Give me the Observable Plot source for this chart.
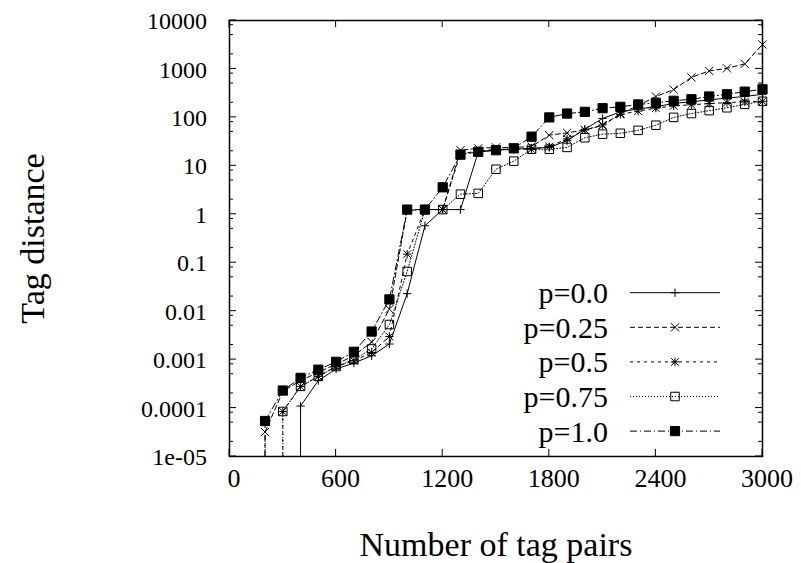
<!DOCTYPE html>
<html>
<head>
<meta charset="utf-8">
<script src="https://cdn.jsdelivr.net/npm/d3@7"></script>
<script src="https://cdn.jsdelivr.net/npm/@observablehq/plot@0.6"></script>
<style>
  html, body { margin: 0; padding: 0; background: #fff; }
  #chart { width: 801px; height: 563px; }
</style>
</head>
<body>
<div id="chart"></div>
<script>
// ---- data ----
const pairs = [200, 300, 400, 500, 600, 700, 800, 900, 1000, 1100, 1200, 1300, 1400, 1500,
  1600, 1700, 1800, 1900, 2000, 2100, 2200, 2300, 2400, 2500, 2600, 2700, 2800, 2900, 3000];
const seriesNames = ["p=0.0", "p=0.25", "p=0.5", "p=0.75", "p=1.0"];
const p00 = [null, null, 1.1e-4, 3.7e-4, 6.4e-4, 8.5e-4, 1.2e-3, 2.1e-3, 0.023, 0.58, 1.25, 1.25,
  19.5, 21, 22, 23, 24, 33, 57, 95, 130, 150, 165, 195, 210, 230, 250, 270, 300];
const p025 = [3.2e-5, 2.2e-4, 3.7e-4, 5.5e-4, 8e-4, 1.2e-3, 2.3e-3, 0.011, 1.2, 1.25, 1.25, 21,
  23, 24, 24, 25, 43, 48, 55, 68, 120, 175, 270, 375, 670, 910, 1030, 1270, 3200];
const p05 = [null, 8.5e-5, 2.8e-4, 4.5e-4, 7.2e-4, 9.5e-4, 1.4e-3, 3e-3, 0.15, 1.25, 1.25, 18,
  20, 22, 22, 22, 25, 36, 55, 70, 115, 135, 155, 173, 182, 193, 202, 210, 215];
const p075 = [null, 8.5e-5, 2.8e-4, 4.5e-4, 7.2e-4, 1e-3, 1.66e-3, 5.3e-3, 0.066, 1.25, 1.25, 2.6,
  2.7, 8.5, 12.5, 22, 22, 24, 38, 45, 47, 54, 69, 100, 120, 138, 158, 186, 215];
const p10 = [5.4e-5, 2.3e-4, 4.2e-4, 6.2e-4, 9e-4, 1.45e-3, 3.8e-3, 0.0175, 1.25, 1.25, 3.6, 17,
  19.5, 21, 23, 40, 100, 120, 130, 155, 165, 185, 200, 220, 237, 270, 300, 340, 380];
const seriesValues = [p00, p025, p05, p075, p10];

const xTicks = [0, 600, 1200, 1800, 2400, 3000];
const yTicks = [1e-5, 1e-4, 1e-3, 1e-2, 1e-1, 1, 10, 100, 1000, 10000];
const yTickLabels = ["1e-05", "0.0001", "0.001", "0.01", "0.1", "1", "10", "100", "1000", "10000"];
const yMinorFactors = [2, 5, 8];

// ---- styles ----
const dashes = [null, "5,3", "3,4", "1,2", "7,3,1,3"];
const markers = [
  [["plus", 2.8, "none"]],
  [["times", 3.8, "none"]],
  [["plus", 2.8, "none"], ["times", 3.6, "none"]],
  [["square", 4.8, "none"]],
  [["square", 5.2, "black"]]
];
const FONT = "'Liberation Serif', 'Times New Roman', Times, serif";
const yMinor = yTicks.slice(0, -1).flatMap(t => yMinorFactors.map(f => t * f));

const marks = [];
seriesValues.forEach((vals, i) => {
  const data = pairs.map((x, j) => ({x, y: vals[j]})).filter(d => d.y != null);
  const dash = dashes[i] ? {strokeDasharray: dashes[i]} : {};
  marks.push(Plot.line(data, {x: "x", y: "y", stroke: "black", strokeWidth: 1, ...dash}));
  marks.push(Plot.ruleX([data[0]], {x: "x", y1: yTicks[0], y2: "y", stroke: "black", strokeWidth: 1, ...dash}));
  markers[i].forEach(([sym, r, fill]) => {
    marks.push(Plot.dot(data, {x: "x", y: "y", symbol: sym, r, fill, stroke: "black", strokeWidth: 1}));
  });
});

const chart = Plot.plot({
  width: 801,
  height: 563,
  marginLeft: 229,
  marginRight: 39,
  marginTop: 20,
  marginBottom: 107,
  style: {fontFamily: FONT, fontSize: "26px", color: "black", background: "white"},
  x: {domain: [0, 3000], axis: null},
  y: {type: "log", domain: [1e-5, 1e4], axis: null},
  marks: [
    ...marks,
    Plot.frame({stroke: "black", strokeWidth: 1.5}),
    Plot.text(["Tag distance"], {frameAnchor: "left", dx: -196, rotate: -90, fontSize: 34,
      textAnchor: "middle", lineAnchor: "middle", text: d => d}),
    Plot.text(["Number of tag pairs"], {frameAnchor: "bottom", dy: 89, fontSize: 34,
      textAnchor: "middle", lineAnchor: "middle", text: d => d})
  ]
});
document.getElementById("chart").appendChild(chart);

// ---- axes: inward ticks and labels, placed with the plot's own scales ----
const svg = d3.select(chart);
const xs = chart.scale("x"), ys = chart.scale("y");
const [fx0, fx1] = xs.range, [fy0, fy1] = ys.range; // fy0 bottom, fy1 top
const xPix = v => xs.apply(v), yPix = v => ys.apply(v);
const ax = svg.append("g").attr("stroke", "black").attr("stroke-width", 1);
yTicks.forEach(t => {
  const y = yPix(t);
  ax.append("line").attr("x1", fx0).attr("x2", fx0 + 7).attr("y1", y).attr("y2", y);
  ax.append("line").attr("x1", fx1).attr("x2", fx1 - 7).attr("y1", y).attr("y2", y);
});
yMinor.forEach(t => {
  const y = yPix(t);
  ax.append("line").attr("x1", fx0).attr("x2", fx0 + 4).attr("y1", y).attr("y2", y);
  ax.append("line").attr("x1", fx1).attr("x2", fx1 - 4).attr("y1", y).attr("y2", y);
});
xTicks.forEach(t => {
  const x = xPix(t);
  ax.append("line").attr("x1", x).attr("x2", x).attr("y1", fy0).attr("y2", fy0 - 7);
  ax.append("line").attr("x1", x).attr("x2", x).attr("y1", fy1).attr("y2", fy1 + 7);
});
const tx = svg.append("g").attr("font-family", FONT).attr("fill", "black");
yTicks.forEach((t, i) => {
  tx.append("text").attr("x", fx0 - 22).attr("y", yPix(t)).attr("dy", "0.38em")
    .attr("font-size", 24).attr("text-anchor", "end").text(yTickLabels[i]);
});
xTicks.forEach(t => {
  tx.append("text").attr("x", xPix(t) + 5).attr("y", fy0 + 10).attr("dy", "0.8em")
    .attr("font-size", 26).attr("text-anchor", "middle").text(String(t));
});

// ---- legend ----
const lg = svg.append("g").attr("font-family", FONT).attr("font-size", 30);
seriesNames.forEach((name, i) => {
  const yy = 292.7 + 34.6 * i;
  const row = lg.append("g").attr("transform", `translate(0,${yy})`);
  row.append("text").attr("x", 608).attr("y", 0).attr("dy", "0.35em")
    .attr("text-anchor", "end").attr("fill", "black").text(name);
  const ln = row.append("line").attr("x1", 630).attr("x2", 720).attr("y1", 0).attr("y2", 0)
    .attr("stroke", "black").attr("stroke-width", 1);
  if (dashes[i]) ln.attr("stroke-dasharray", dashes[i]);
  markers[i].forEach(([sym, r, fill]) => {
    const type = {plus: d3.symbolPlus, times: d3.symbolTimes, square: d3.symbolSquare}[sym];
    row.append("path").attr("transform", "translate(675,0)")
      .attr("d", d3.symbol(type, r * r * Math.PI)())
      .attr("fill", fill).attr("stroke", "black").attr("stroke-width", 1);
  });
});
</script>
</body>
</html>
